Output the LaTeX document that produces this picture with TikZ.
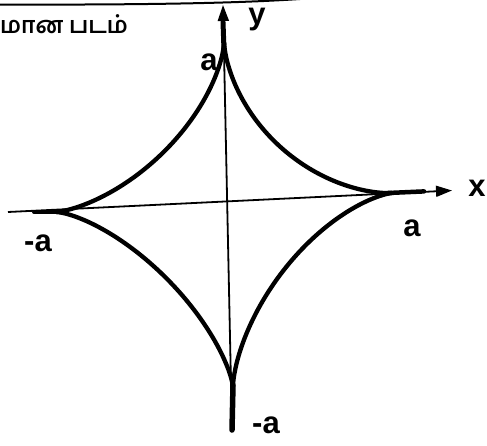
\documentclass[tikz,border=0pt]{standalone}
\usepackage{fontspec}
\setmainfont{Liberation Sans}
\newfontfamily\tamilfont[Script=Tamil]{Hind Madurai}
\usetikzlibrary{arrows.meta}
\tikzset{
  curve/.style={line width=4.3pt, line join=round},
  axis/.style={line width=1.8pt, -{Triangle[length=16pt,width=11pt]}},
  stem/.style={line width=5pt, line cap=round},
  lbl/.style={font=\bfseries\fontsize{31}{31}\selectfont, inner sep=0pt},
  border/.style={line width=2pt}
}
\begin{document}
\begin{tikzpicture}[x=1pt,y=-1pt]
\useasboundingbox (0,0) rectangle (487,445);
% page border line at the top
\draw[border] (0,4.5) .. controls (150,5) and (240,3) .. (300,-1);
% axes
\coordinate (xs) at (8,212);
\coordinate (xe) at (452,190.5);
\coordinate (ys) at (232,432);
\coordinate (ye) at (223,5);
\draw[axis] (xs) -- (xe);
\draw[axis] (ys) -- (ye);
% astroid, four quadrants
\draw[curve] plot[domain=0.2:89.8, samples=90, variable=\t]
  ({228+164*pow(cos(\t),3.2)-4*pow(sin(\t),3.2)},{205-12*pow(cos(\t),3.2)-163*pow(sin(\t),3.2)});
\draw[curve] plot[domain=0.2:89.8, samples=90, variable=\t]
  ({228-172*pow(cos(\t),3)-4*pow(sin(\t),3)},{205+7*pow(cos(\t),3)-163*pow(sin(\t),3)});
\draw[curve] plot[domain=0.2:89.8, samples=90, variable=\t]
  ({228-172*pow(cos(\t),2.8)+5*pow(sin(\t),2.8)},{205+7*pow(cos(\t),2.8)+182*pow(sin(\t),2.8)});
\draw[curve] plot[domain=0.2:89.8, samples=90, variable=\t]
  ({228+164*pow(cos(\t),3)+5*pow(sin(\t),3)},{205-12*pow(cos(\t),3)+182*pow(sin(\t),3)});
% thick cusp stems
\coordinate (cb) at (233,385);
\coordinate (cbe) at (232,430);
\coordinate (ct) at (224,50);
\coordinate (cte) at (223,22);
\coordinate (cr) at (388,193);
\coordinate (cre) at (424,191.4);
\coordinate (cl) at (58,212);
\coordinate (cle) at (34,212);
\draw[stem, line width=5.5pt] (cb) -- (cbe);
\draw[stem] (ct) -- (cte);
\draw[stem, line width=4.5pt] (cr) -- (cre);
\draw[stem, line width=4pt] (cl) -- (cle);
% labels
\node[lbl] (ly) at (257,20) {y};
\node[lbl] (lx) at (477,188) {x};
\node[lbl] (lat) at (209,62) {a};
\node[lbl] (lar) at (412,228) {a};
\node[lbl] (lal) at (38,243) {-a};
\node[lbl] (lab) at (266,425) {-a};
\node[anchor=base west, inner sep=0pt, font=\tamilfont\bfseries\fontsize{23}{23}\selectfont] (title) at (0,33) {மான படம்};
\end{tikzpicture}
\end{document}
